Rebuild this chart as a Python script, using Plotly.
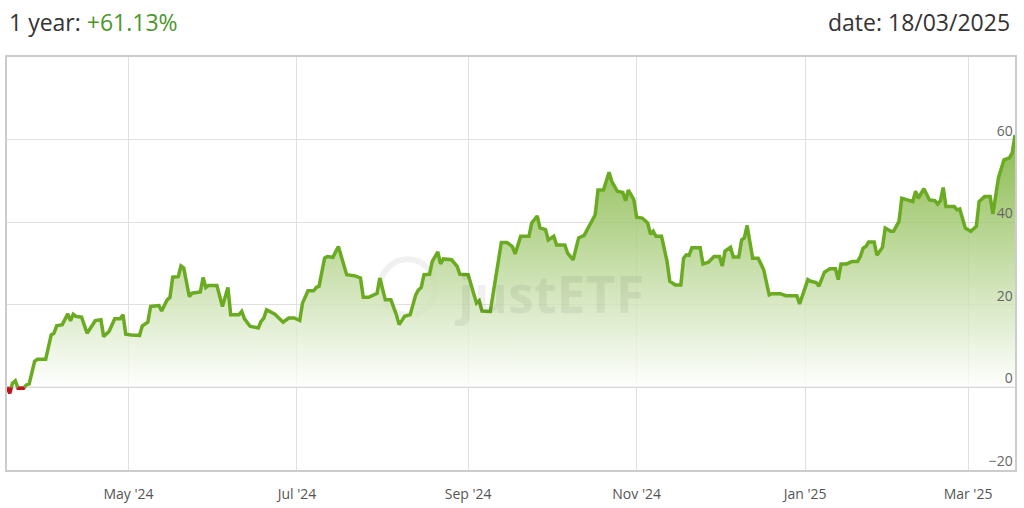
import numpy as np
import pandas as pd
import plotly.graph_objects as go

# one-year performance, % since start date
start_date = "2024-03-18"
day_offset = [0, 1, 2, 3, 4, 6, 7, 8, 10, 11, 14, 16, 17, 18, 20, 22, 23, 24, 25, 27,
              29, 32, 34, 35, 37, 39, 41, 42, 43, 45, 48, 49, 51, 52, 55, 56, 58, 59, 60, 62,
              63, 64, 66, 67, 70, 71, 72, 73, 76, 78, 80, 81, 84, 85, 86, 88, 91, 92, 93, 94,
              96, 97, 100, 102, 104, 106, 107, 109, 111, 112, 113, 115, 116, 118, 120, 123, 126, 128, 129, 131,
              134, 135, 137, 139, 141, 142, 144, 146, 148, 149, 150, 151, 153, 154, 156, 157, 158, 161, 163, 164,
              167, 168, 170, 171, 172, 175, 176, 179, 181, 183, 184, 186, 189, 190, 192, 193, 195, 196, 198, 199,
              202, 203, 205, 207, 209, 211, 213, 214, 216, 218, 219, 221, 223, 224, 225, 227, 228, 230, 232, 233,
              234, 235, 237, 239, 240, 242, 244, 245, 246, 247, 248, 251, 252, 254, 256, 258, 259, 260, 262, 263,
              265, 266, 267, 268, 270, 272, 274, 276, 277, 280, 282, 286, 287, 290, 291, 293, 294, 296, 298, 300,
              301, 302, 304, 306, 308, 309, 310, 311, 312, 314, 315, 317, 318, 320, 321, 323, 324, 326, 328, 329,
              330, 332, 334, 336, 337, 338, 339, 340, 343, 344, 345, 347, 349, 351, 352, 354, 356, 357, 358, 359,
              361, 362, 363, 364, 365]
perf_pct = [0.0, -1.4, 1.0, 1.6, -0.2, -0.2, 0.6, 0.8, 6.3, 6.8, 6.8, 12.7, 13.1, 14.9, 15.2, 17.8, 16.1, 17.7, 17.2, 17.0,
            13.1, 16.2, 16.4, 12.3, 13.6, 16.6, 16.6, 17.6, 12.9, 12.7, 12.6, 14.9, 15.8, 19.6, 19.8, 18.5, 21.2, 21.8, 26.7, 26.8,
            29.4, 28.9, 22.0, 22.8, 23.1, 26.6, 24.2, 24.7, 24.7, 19.6, 24.2, 17.6, 17.6, 18.4, 16.6, 14.8, 14.4, 16.0, 16.8, 18.8,
            18.0, 17.7, 15.8, 16.8, 16.8, 16.2, 20.4, 23.4, 23.4, 24.2, 24.5, 31.3, 31.7, 31.5, 34.1, 27.3, 27.0, 26.5, 21.8, 21.8,
            22.8, 26.5, 21.2, 21.2, 17.6, 15.2, 17.2, 17.6, 22.4, 23.6, 24.2, 27.3, 27.4, 30.5, 32.8, 29.9, 31.1, 30.9, 29.3, 27.4,
            27.3, 24.8, 20.4, 21.0, 18.5, 18.4, 22.4, 35.1, 35.1, 34.1, 32.3, 36.6, 36.6, 39.8, 41.5, 38.6, 38.2, 35.7, 36.6, 34.5,
            34.5, 32.5, 30.9, 36.2, 36.8, 39.2, 41.8, 47.8, 47.8, 52.1, 49.9, 47.5, 47.2, 45.2, 47.8, 45.4, 41.2, 41.0, 39.8, 37.1,
            37.8, 36.6, 36.6, 30.5, 25.7, 24.8, 24.8, 31.3, 32.1, 32.0, 33.8, 33.8, 29.9, 30.3, 31.7, 31.7, 29.4, 33.0, 33.9, 31.6,
            31.6, 35.7, 36.2, 39.2, 31.3, 31.3, 28.5, 22.4, 22.7, 22.7, 22.2, 22.2, 20.2, 26.1, 25.7, 25.4, 24.5, 27.9, 28.7, 28.7,
            26.1, 29.9, 29.9, 30.5, 30.5, 31.7, 33.7, 34.1, 35.2, 35.2, 32.0, 33.9, 38.6, 37.8, 37.8, 40.2, 45.8, 45.4, 45.0, 47.5,
            45.8, 48.1, 45.4, 45.2, 44.4, 45.2, 48.4, 43.8, 43.8, 43.0, 43.2, 38.6, 37.8, 39.0, 45.0, 46.2, 46.2, 42.0, 46.6, 50.7,
            55.1, 55.4, 55.6, 56.8, 61.13]
y_ticks = [-20, 0, 20, 40, 60]
assert len(day_offset) == len(perf_pct)

GREEN = "#6aab22"
RED = "#c0141c"


def split_at_zero(t, v):
    """insert zero crossings so the part below zero can be drawn red"""
    xs, ys = [t[0]], [v[0]]
    for i in range(1, len(v)):
        if (v[i - 1] < 0 < v[i]) or (v[i - 1] > 0 > v[i]):
            f = v[i - 1] / (v[i - 1] - v[i])
            xs.append(t[i - 1] + f * (t[i] - t[i - 1]))
            ys.append(0.0)
        xs.append(t[i])
        ys.append(v[i])
    xs, ys = np.array(xs), np.array(ys)
    pos = np.where(ys >= 0, ys, np.nan)
    neg = np.where(ys <= 0, ys, np.nan)
    return xs, pos, neg


t, pos, neg = split_at_zero(np.array(day_offset, float), np.array(perf_pct))
dates = pd.Timestamp(start_date) + pd.to_timedelta(t, unit="D")

fig = go.Figure()
fig.add_trace(go.Scatter(
    x=dates, y=pos, mode="lines", connectgaps=False,
    line=dict(color=GREEN, width=3.5), fill="tozeroy",
    fillgradient=dict(type="vertical", start=0, stop=max(perf_pct),
                      colorscale=[[0, "rgba(255,255,255,0.8)"], [1, "rgba(112,172,38,0.82)"]]),
    hoverinfo="skip"))
fig.add_trace(go.Scatter(
    x=dates, y=neg, mode="lines", connectgaps=False,
    line=dict(color=RED, width=3.5), fill="tozeroy", fillcolor="rgba(192,20,28,0.25)",
    hoverinfo="skip"))

# watermark
fig.add_shape(type="circle", xref="paper", yref="paper", x0=0.37, x1=0.425, y0=0.375, y1=0.51,
              line=dict(color="rgba(0,0,0,0.06)", width=6), layer="below")
fig.add_annotation(xref="paper", yref="paper", x=0.538, y=0.43, showarrow=False,
                   text="<b>justETF</b>", font=dict(size=52, color="rgba(0,0,0,0.06)", family="Open Sans"))

# header
fig.add_annotation(xref="paper", yref="paper", x=0.0, y=1.0, yshift=35, xanchor="left", yanchor="middle",
                   showarrow=False, text="1 year: <span style='color:#4b962a'>+61.13%</span>",
                   font=dict(size=23, color="#333333", family="Open Sans"))
fig.add_annotation(xref="paper", yref="paper", x=0.997, y=1.0, yshift=35, xanchor="right", yanchor="middle",
                   showarrow=False, text="date: 18/03/2025",
                   font=dict(size=23, color="#333333", family="Open Sans"))

fig.update_layout(
    width=1024, height=508,
    margin=dict(l=5, r=9, t=57, b=37),
    paper_bgcolor="white", plot_bgcolor="white",
    showlegend=False,
    font=dict(family="Open Sans", color="#666666"),
)
fig.update_xaxes(
    type="date", range=["2024-03-18", "2025-03-18"],
    tick0="2024-05-01", dtick="M2", tickformat="%b '%y",
    showgrid=True, gridcolor="#e0e0e0", gridwidth=1,
    showline=True, linecolor="#cccccc", linewidth=2, mirror=True,
    ticks="", ticklabelstandoff=10, tickfont=dict(size=14, color="#555555"),
    zeroline=False,
)
fig.update_yaxes(
    range=[-20, 80], tickvals=y_ticks, side="right", ticklabelposition="inside",
    ticklabelshift=-9, ticklabelstandoff=2,
    showgrid=True, gridcolor="#e0e0e0", gridwidth=1,
    showline=True, linecolor="#cccccc", linewidth=2, mirror=True,
    zeroline=True, zerolinecolor="#bdbdbd", zerolinewidth=2,
    ticks="", tickfont=dict(size=14, color="#666666"),
)

# drop the default page margin so the figure sits at the window's corner
fig.write_html("out.html", config={"displayModeBar": False},
               post_script="document.body.style.margin='0';")
